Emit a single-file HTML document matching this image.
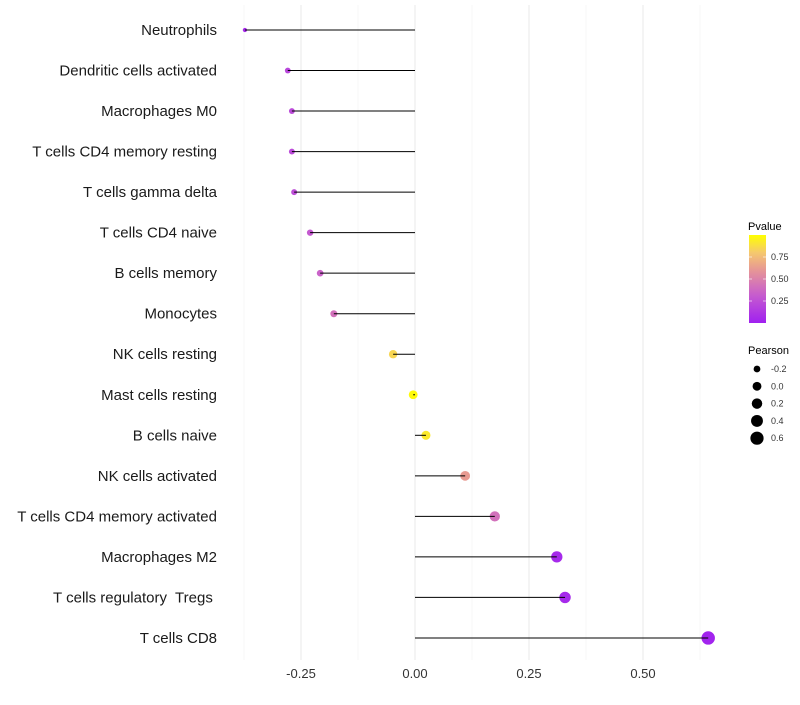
<!DOCTYPE html>
<html><head><meta charset="utf-8"><style>
body{margin:0;background:#fff;font-family:"Liberation Sans",sans-serif}
text{white-space:pre}
</style></head><body>
<svg id="chart" width="800" height="700" xmlns="http://www.w3.org/2000/svg" font-family="Liberation Sans, sans-serif"></svg>
<script>
const categories=["Neutrophils","Dendritic cells activated","Macrophages M0","T cells CD4 memory resting","T cells gamma delta","T cells CD4 naive","B cells memory","Monocytes","NK cells resting","Mast cells resting","B cells naive","NK cells activated","T cells CD4 memory activated","Macrophages M2","T cells regulatory  Tregs ","T cells CD8"];
const pearson=[-0.373,-0.279,-0.270,-0.270,-0.265,-0.230,-0.208,-0.178,-0.048,-0.004,0.024,0.110,0.175,0.311,0.329,0.643];
const pvalue=[0.05,0.2,0.22,0.22,0.24,0.3,0.35,0.42,0.85,0.98,0.92,0.62,0.42,0.05,0.05,0.02];
const xTicks=[-0.25,0,0.25,0.5];
const xTickLabels=["-0.25","0.00","0.25","0.50"];
const pLegend=[0.25,0.5,0.75];
const sizeLegend=[-0.2,0,0.2,0.4,0.6];

const svg=document.getElementById('chart');
const NS='http://www.w3.org/2000/svg';
const X=v=>415+v*456;
const Y=i=>30+i*40.53;
const R=v=>Math.sqrt(Math.max(2.2,19.5+40*v));
function col(p){
  const st=[[0,[160,32,240]],[0.33,[200,95,205]],[0.6,[230,150,150]],[0.8,[245,200,110]],[1,[255,255,0]]];
  for(let k=1;k<st.length;k++){if(p<=st[k][0]){const a=st[k-1],b=st[k];const t=(p-a[0])/(b[0]-a[0]);
    return 'rgb('+a[1].map((c,j)=>Math.round(c+(b[1][j]-c)*t)).join(',')+')';}}
  return 'rgb(255,255,0)';
}
function el(t,a,txt){const e=document.createElementNS(NS,t);for(const k in a)e.setAttribute(k,a[k]);if(txt!==undefined)e.textContent=txt;svg.appendChild(e);return e;}

[-0.375,-0.125,0.125,0.375,0.625].forEach(v=>{
  const g=el('line',{x1:X(v),x2:X(v),y1:5,y2:660,stroke:'#f2f2f2','stroke-width':0.6});
  
  
});
xTicks.forEach((v,i)=>{
  const g=el('line',{x1:X(v),x2:X(v),y1:5,y2:660,stroke:'#ebebeb','stroke-width':1.1});
  
  
  const t=el('text',{x:X(v),y:678,'text-anchor':'middle','font-size':13,fill:'#333'},xTickLabels[i]);
  
  
});
categories.forEach((c,i)=>{
  const t=el('text',{x:217,y:Y(i)+5,'text-anchor':'end','font-size':15,fill:'#1a1a1a'},c);
  
  
  const d=el('circle',{cx:X(pearson[i]),cy:Y(i),r:R(pearson[i]),fill:col(pvalue[i])});
  
  
  const l=el('line',{x1:X(0),x2:X(pearson[i]),y1:Y(i),y2:Y(i),stroke:'#000','stroke-width':1});
  
  
});
const defs=el('defs',{});
const lg=document.createElementNS(NS,'linearGradient');lg.setAttribute('id','pg');lg.setAttribute('x1','0');lg.setAttribute('y1','1');lg.setAttribute('x2','0');lg.setAttribute('y2','0');
for(let k=0;k<=10;k++){const s=document.createElementNS(NS,'stop');s.setAttribute('offset',k/10);s.setAttribute('stop-color',col(k/10));lg.appendChild(s);}
defs.appendChild(lg);
let t=el('text',{x:748,y:230,'font-size':11,fill:'#000'},'Pvalue');


const cb=el('rect',{x:749,y:235,width:17,height:88,fill:'url(#pg)'});


pLegend.forEach(p=>{
  const y=323-p*88;
  el('line',{x1:749,x2:752,y1:y,y2:y,stroke:'#fff','stroke-width':0.6});
  el('line',{x1:763,x2:766,y1:y,y2:y,stroke:'#fff','stroke-width':0.6});
  const lt=el('text',{x:771,y:y+3,'font-size':9,fill:'#333'},p.toFixed(2));
  
  
});
t=el('text',{x:748,y:354,'font-size':11,fill:'#000'},'Pearson');


sizeLegend.forEach((v,i)=>{
  const y=369+i*17.3;
  const c=el('circle',{cx:757,cy:y,r:R(v),fill:'#000'});
  
  
  const lt=el('text',{x:771,y:y+3,'font-size':9,fill:'#333'},v.toFixed(1));
  
  
});
</script>
</body></html>
